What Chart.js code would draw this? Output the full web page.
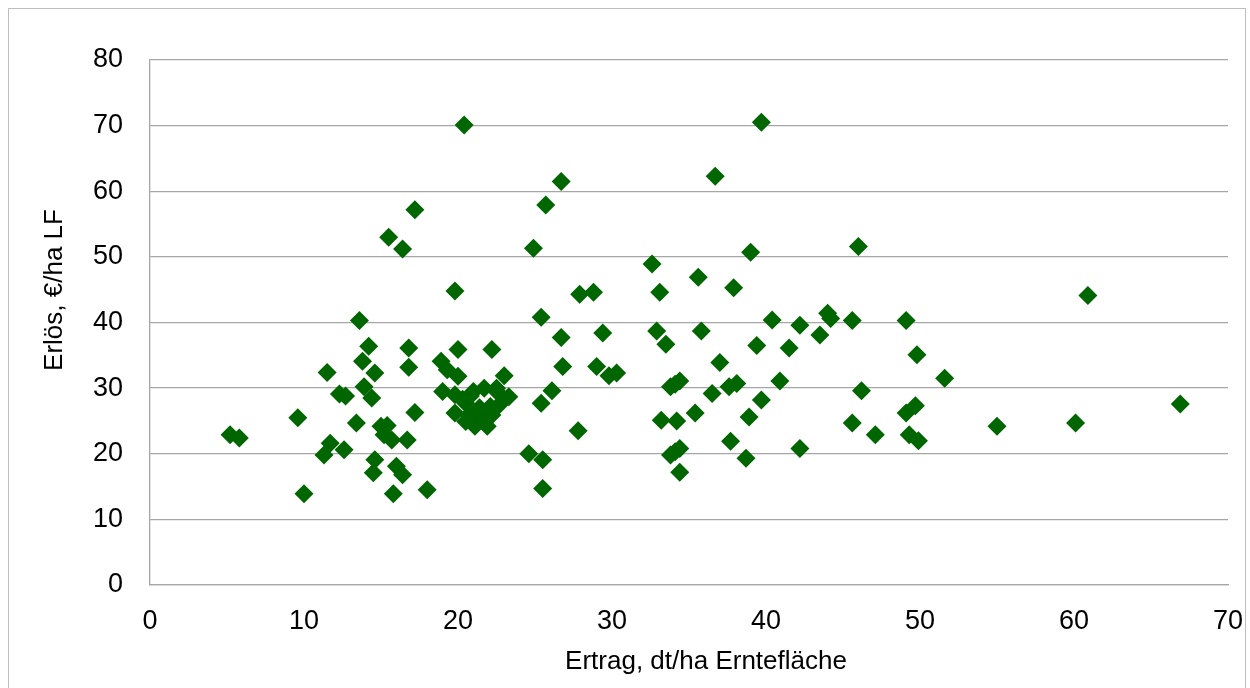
<!DOCTYPE html>
<html>
<head>
<meta charset="utf-8">
<script src="https://cdn.jsdelivr.net/npm/chart.js@4"></script>
<style>
  body { margin: 0; background: #fff; }
</style>
</head>
<body>
<canvas id="scatterChart" width="1250" height="688"></canvas>
<script>
// Ertrag (dt/ha Erntefläche) and Erlös (€/ha LF)
const ertrag = [
  5.2, 5.8, 9.6, 10.0, 11.3, 11.5, 11.7, 12.3, 12.7, 12.6, 13.4, 13.6, 13.8, 13.9, 14.2, 14.4, 14.5, 14.6, 14.6,
  15.0, 15.2, 15.4, 15.5, 15.7, 15.8, 16.0, 16.4, 16.4, 16.7, 16.8, 16.8, 17.2, 17.2, 18.0, 18.9, 19.3, 19.0, 19.8, 19.8, 19.8, 20.0, 20.0,
  20.4, 20.5, 20.7, 20.5, 21.0, 21.1, 21.6, 21.7, 21.9, 22.2, 22.2, 22.5, 23.0, 23.3, 20.3, 21.4, 22.7, 20.8, 21.3, 22.1, 22.6,
  24.6, 24.9, 25.4, 25.4, 25.5, 25.5, 25.7, 26.1, 26.7, 26.7, 26.8, 27.8, 27.9, 28.8, 29.0, 29.4, 29.8, 30.3,
  32.6, 32.9, 33.1, 33.2, 33.5, 33.8, 34.1, 34.4, 33.8, 34.1, 34.4, 34.2, 34.4, 35.4, 35.6, 35.8, 36.5, 36.7, 37.0, 37.6, 38.1, 37.7, 37.9, 38.7, 38.9, 39.0, 39.4, 39.7, 39.7,
  40.4, 40.9, 41.5, 42.2, 42.2, 43.5, 44.0, 44.2, 45.6, 45.6, 46.0, 46.2, 47.1, 49.1, 49.1, 49.7, 49.3, 49.9, 49.8,
  51.6, 55.0, 60.1, 60.9, 66.9
];
const erloes = [
  22.9, 22.4, 25.5, 13.9, 19.8, 32.4, 21.6, 29.1, 28.8, 20.6, 24.7, 40.3, 34.1, 30.2, 36.4, 28.5, 17.1, 19.1, 32.3,
  24.2, 22.9, 24.3, 53.0, 22.1, 13.9, 18.1, 16.8, 51.2, 22.1, 36.1, 33.2, 26.3, 57.2, 14.5, 34.1, 32.8, 29.5, 44.8, 29.0, 26.2, 35.9, 31.8,
  70.1, 27.7, 25.9, 24.9, 29.5, 24.2, 25.4, 30.0, 24.2, 25.9, 35.9, 30.0, 31.9, 28.7, 28.3, 27.0, 27.5, 28.8, 26.5, 27.2, 29.3,
  20.0, 51.3, 40.8, 27.7, 19.1, 14.7, 57.9, 29.6, 61.5, 37.7, 33.3, 23.5, 44.3, 44.6, 33.3, 38.4, 31.9, 32.3,
  48.9, 38.7, 44.6, 25.1, 36.7, 30.2, 30.6, 31.1, 19.8, 20.3, 20.8, 25.0, 17.2, 26.2, 46.9, 38.7, 29.2, 62.3, 33.9, 30.2, 30.7, 21.9, 45.3, 19.3, 25.6, 50.7, 36.5, 28.2, 70.5,
  40.4, 31.1, 36.1, 39.6, 20.8, 38.1, 41.4, 40.6, 40.3, 24.7, 51.6, 29.6, 22.9, 40.3, 26.2, 27.3, 22.9, 22.0, 35.1,
  31.5, 24.2, 24.7, 44.1, 27.6
];

const xTitle = 'Ertrag, dt/ha Erntefläche';
const yTitle = 'Erlös, €/ha LF';

const points = ertrag.map((x, i) => ({ x: x, y: erloes[i] }));

const fontFamily = '"Liberation Sans", Arial, sans-serif';
const gridGray = '#a6a6a6';

// white background + thin outer frame
const frame = {
  id: 'frame',
  beforeDraw(chart) {
    const ctx = chart.ctx;
    ctx.save();
    ctx.fillStyle = '#fff';
    ctx.fillRect(0, 0, chart.width, chart.height);
    ctx.strokeStyle = '#bfbfbf';
    ctx.lineWidth = 1;
    ctx.strokeRect(8.5, 8.5, 1237, 700);
    ctx.restore();
  }
};

// axis titles sit a bit off-centre in the original, so place them by hand
const axisTitles = {
  id: 'axisTitles',
  afterDraw(chart) {
    const ctx = chart.ctx;
    ctx.save();
    ctx.fillStyle = '#000';
    ctx.font = '26px ' + fontFamily;
    ctx.textAlign = 'center';
    ctx.textBaseline = 'middle';
    ctx.fillText(xTitle, 706, 662);
    ctx.translate(55, 290);
    ctx.rotate(-Math.PI / 2);
    ctx.fillText(yTitle, 0, 0);
    ctx.restore();
  }
};

new Chart('scatterChart', {
  type: 'scatter',
  data: {
    datasets: [{
      data: points,
      pointStyle: 'rectRot',
      pointRadius: 9.5,
      pointHoverRadius: 9.5,
      backgroundColor: '#006600',
      borderColor: '#006600',
      borderWidth: 0
    }]
  },
  options: {
    responsive: false,
    animation: false,
    layout: { padding: { top: 60, right: 22, bottom: 0, left: 0 } },
    plugins: {
      legend: { display: false },
      tooltip: { enabled: false }
    },
    scales: {
      x: {
        type: 'linear',
        min: 0,
        max: 70,
        afterFit(scale) {
          scale.height = 103;
          scale.paddingLeft = 0;
          scale.paddingRight = 0;
        },
        ticks: {
          stepSize: 10,
          padding: 20,
          color: '#000',
          font: { family: fontFamily, size: 27 }
        },
        grid: { display: false, drawTicks: false },
        border: { display: true, color: gridGray, width: 1.3 }
      },
      y: {
        min: 0,
        max: 80,
        afterFit(scale) {
          scale.width = 150;
          scale.paddingTop = 0;
          scale.paddingBottom = 0;
        },
        ticks: {
          stepSize: 10,
          padding: 27,
          color: '#000',
          font: { family: fontFamily, size: 27 }
        },
        grid: { color: gridGray, lineWidth: 1.3, drawTicks: false },
        border: { display: true, color: gridGray, width: 1.3 }
      }
    }
  },
  plugins: [frame, axisTitles]
});
</script>
</body>
</html>
